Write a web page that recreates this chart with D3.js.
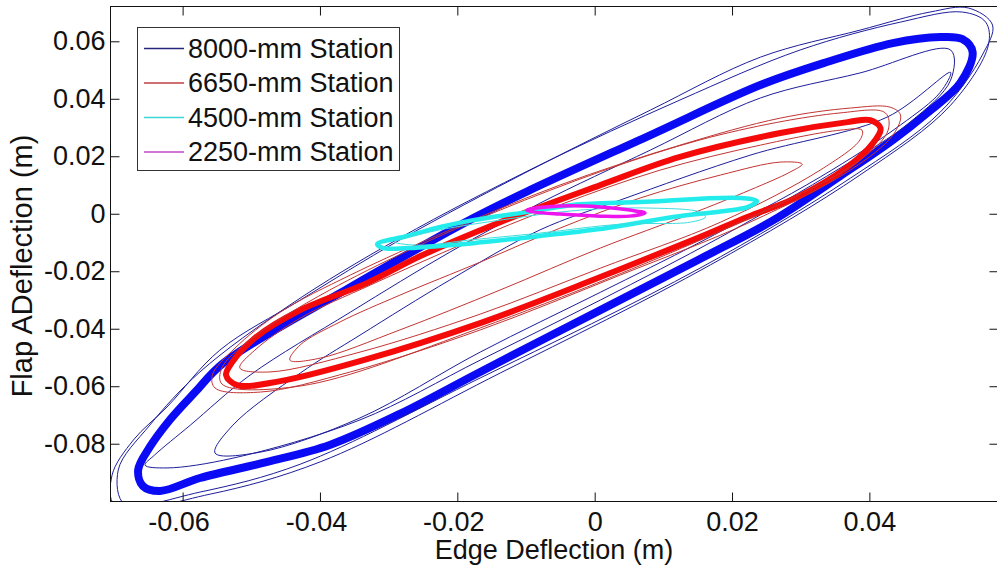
<!DOCTYPE html>
<html>
<head>
<meta charset="utf-8">
<script src="https://cdn.jsdelivr.net/npm/d3@7"></script>
<style>
  html, body { margin: 0; padding: 0; background: #fff; }
  svg { display: block; font-family: "Liberation Sans", Arial, Helvetica, sans-serif; }
</style>
</head>
<body>
<svg id="chart" width="997" height="565"></svg>
<script>
// ---- labels, ticks and limits ----
const stationLabels = ["8000-mm Station", "6650-mm Station", "4500-mm Station", "2250-mm Station"];
const xTicks = [-0.06, -0.04, -0.02, 0, 0.02, 0.04];
const yTicks = [-0.08, -0.06, -0.04, -0.02, 0, 0.02, 0.04, 0.06];
const xLimits = [-0.0705, 0.0588];
const yLimits = [-0.1001, 0.0721];
const xTitle = "Edge Deflection (m)";
const yTitle = "Flap ADeflection (m)";

// ---- orbits: [edge, flap] deflection in metres, each array is one closed cycle ----
// 8000-mm station: the settled (dense) cycle, then stray cycles
const st8000Dense = [
  [-0.0632,-0.0966],[-0.0574,-0.0921],[-0.0476,-0.0865],[-0.0385,-0.0806],[-0.0283,-0.0698],
  [-0.0166,-0.0552],[0.0009,-0.0337],[0.0154,-0.0159],[0.0261,-0.0024],[0.0358,0.0129],
  [0.0435,0.0255],[0.0485,0.0349],[0.0533,0.0453],[0.0551,0.0561],[0.0536,0.0606],
  [0.0504,0.0613],[0.0435,0.0592],[0.0339,0.0526],[0.0242,0.0446],[0.0082,0.0272],
  [-0.0093,0.0081],[-0.0176,-0.0017],[-0.0355,-0.0257],[-0.0540,-0.0521],[-0.0581,-0.0622],
  [-0.0618,-0.0719],[-0.0647,-0.0813],[-0.0664,-0.0893],[-0.0657,-0.0949]
];
const st8000OuterA = [
  [-0.0698,-0.1015],[-0.0574,-0.0970],[-0.0428,-0.0873],[-0.0166,-0.0573],[0.0154,-0.0191],
  [0.0373,0.0122],[0.0504,0.0352],[0.0565,0.0550],[0.0580,0.0655],[0.0545,0.0714],
  [0.0489,0.0700],[0.0387,0.0637],[0.0242,0.0543],[0.0082,0.0359],[-0.0093,0.0150],
  [-0.0283,-0.0093],[-0.0428,-0.0302],[-0.0545,-0.0476],[-0.0622,-0.0674],[-0.0671,-0.0789],
  [-0.0702,-0.0911]
];
const st8000OuterB = [
  [-0.0683,-0.1015],[-0.0559,-0.0977],[-0.0399,-0.0865],[-0.0137,-0.0556],[0.0169,-0.0180],
  [0.0387,0.0133],[0.0519,0.0376],[0.0574,0.0585],[0.0570,0.0665],[0.0536,0.0700],
  [0.0446,0.0665],[0.0300,0.0568],[0.0125,0.0394],[-0.0079,0.0168],[-0.0283,-0.0086],
  [-0.0443,-0.0319],[-0.0574,-0.0552],[-0.0647,-0.0737],[-0.0693,-0.0893]
];
const st8000Inner = [
  [-0.0552,-0.0834],[-0.0526,-0.0737],[-0.0428,-0.0556],[-0.0341,-0.0424],[-0.0210,-0.0232],
  [-0.0079,-0.0058],[0.0038,0.0046],[0.0227,0.0202],[0.0427,0.0335],[0.0519,0.0490],
  [0.0504,0.0421],[0.0446,0.0307],[0.0329,0.0126],[0.0154,-0.0101],[0.0009,-0.0275],
  [-0.0166,-0.0483],[-0.0341,-0.0712],[-0.0486,-0.0831]
];
const st8000Hug = [
  [-0.0654,-0.0876],[-0.0622,-0.0886],[-0.0526,-0.0852],[-0.0341,-0.0719],[-0.0166,-0.0511],
  [0.0009,-0.0302],[0.0184,-0.0083],[0.0358,0.0157],[0.0460,0.0317],[0.0519,0.0463],
  [0.0519,0.0568],[0.0387,0.0488],[0.0242,0.0401],[0.0082,0.0220],[-0.0079,0.0035],
  [-0.0210,-0.0135],[-0.0355,-0.0344],[-0.0501,-0.0563],[-0.0588,-0.0737],[-0.0640,-0.0841]
];

// 6650-mm station
const st6650Dense = [
  [-0.0520,-0.0598],[-0.0457,-0.0584],[-0.0336,-0.0511],[-0.0166,-0.0382],[0.0009,-0.0222],
  [0.0154,-0.0083],[0.0223,-0.0013],[0.0296,0.0056],[0.0369,0.0161],[0.0406,0.0244],
  [0.0417,0.0296],[0.0402,0.0324],[0.0369,0.0317],[0.0271,0.0279],[0.0125,0.0196],
  [0.0009,0.0098],[-0.0137,-0.0031],[-0.0253,-0.0149],[-0.0331,-0.0243],[-0.0428,-0.0337],
  [-0.0494,-0.0434],[-0.0527,-0.0518],[-0.0536,-0.0563]
];
const st6650OuterA = [
  [-0.0552,-0.0608],[-0.0486,-0.0622],[-0.0355,-0.0552],[-0.0166,-0.0406],[0.0038,-0.0215],
  [0.0227,-0.0031],[0.0373,0.0150],[0.0435,0.0272],[0.0446,0.0342],[0.0431,0.0369],
  [0.0373,0.0366],[0.0271,0.0331],[0.0125,0.0237],[-0.0050,0.0098],[-0.0210,-0.0058],
  [-0.0355,-0.0215],[-0.0457,-0.0344],[-0.0523,-0.0469],[-0.0556,-0.0563]
];
const st6650OuterB = [
  [-0.0542,-0.0594],[-0.0428,-0.0601],[-0.0166,-0.0399],[0.0213,-0.0031],[0.0387,0.0185],
  [0.0428,0.0289],[0.0424,0.0349],[0.0358,0.0349],[0.0154,0.0255],[-0.0137,0.0011],
  [-0.0385,-0.0267],[-0.0501,-0.0441],[-0.0542,-0.0538]
];
const st6650Inner = [
  [-0.0443,-0.0511],[-0.0428,-0.0458],[-0.0370,-0.0378],[-0.0283,-0.0285],[-0.0166,-0.0170],
  [-0.0050,-0.0052],[0.0067,0.0053],[0.0184,0.0133],[0.0271,0.0178],[0.0303,0.0171],
  [0.0285,0.0143],[0.0227,0.0081],[0.0140,-0.0003],[0.0009,-0.0121],[-0.0137,-0.0267],
  [-0.0283,-0.0406],[-0.0399,-0.0504]
];
const st6650Hug = [
  [-0.0516,-0.0538],[-0.0472,-0.0552],[-0.0341,-0.0483],[-0.0166,-0.0351],[0.0009,-0.0191],
  [0.0184,-0.0031],[0.0329,0.0150],[0.0387,0.0255],[0.0390,0.0289],[0.0358,0.0289],
  [0.0242,0.0237],[0.0096,0.0150],[-0.0050,0.0029],[-0.0195,-0.0111],[-0.0326,-0.0250],
  [-0.0428,-0.0365],[-0.0494,-0.0476]
];

// 4500-mm station
const st4500Dense = [
  [-0.0316,-0.0107],[-0.0272,-0.0079],[-0.0224,-0.0048],[-0.0176,-0.0024],[-0.0098,0.0004],
  [-0.0031,0.0029],[0.0067,0.0039],[0.0213,0.0053],[0.0237,0.0042],[0.0224,0.0022],
  [0.0202,0.0011],[0.0115,-0.0013],[0.0019,-0.0051],[-0.0079,-0.0079],[-0.0176,-0.0104],
  [-0.0272,-0.0121],[-0.0307,-0.0121]
];
const st4500Inner = [
  [-0.0290,-0.0100],[-0.0239,-0.0065],[-0.0137,-0.0024],[-0.0020,0.0011],[0.0082,0.0018],
  [0.0154,0.0004],[0.0162,-0.0013],[0.0140,-0.0031],[0.0038,-0.0038],[-0.0079,-0.0069],
  [-0.0181,-0.0093],[-0.0253,-0.0111]
];

// 2250-mm station
const st2250Dense = [
  [-0.0098,0.0011],[-0.0050,0.0025],[0.0009,0.0022],[0.0052,0.0011],[0.0074,0.0001],
  [0.0052,-0.0010],[0.0009,-0.0010],[-0.0050,-0.0003],[-0.0086,0.0004]
];

// one entry per station: dense cycle first, then the stray cycles
const stationOrbits = [
  [st8000Dense, st8000OuterA, st8000OuterB, st8000Inner, st8000Hug],
  [st6650Dense, st6650OuterA, st6650OuterB, st6650Inner, st6650Hug],
  [st4500Dense, st4500Inner],
  [st2250Dense]
];

// ---- drawing ----
const plot = { left: 110, top: 6, right: 998, bottom: 501 };

const denseColor = ["#0a0af5", "#f50a0a", "#22ecec", "#ee14ee"];
const strayColor = ["#1e1e9c", "#c23434", "#3cdede", "#c63cc6"];
const legendColor = ["#26267e", "#c24040", "#3ad8d8", "#c448c4"];
const denseWidth = [8, 6, 4.5, 3.5];
const fontSize = 27;

const svg = d3.select("#chart");

const x = d3.scaleLinear().domain(xLimits).range([plot.left, plot.right]);
const y = d3.scaleLinear().domain(yLimits).range([plot.bottom, plot.top]);

svg.append("defs").append("clipPath").attr("id", "plotClip")
  .append("rect")
  .attr("x", plot.left).attr("y", plot.top)
  .attr("width", plot.right - plot.left).attr("height", plot.bottom - plot.top);

const orbitLine = d3.line()
  .x(d => x(d[0]))
  .y(d => y(d[1]))
  .curve(d3.curveCatmullRomClosed.alpha(0.5));

const dataLayer = svg.append("g").attr("clip-path", "url(#plotClip)");

stationOrbits.forEach((orbits, s) => {
  const g = dataLayer.append("g").attr("class", "station-" + s);
  orbits.forEach((pts, k) => {
    const dense = k === 0;
    g.append("path")
      .attr("d", orbitLine(pts))
      .attr("fill", "none")
      .attr("stroke", dense ? denseColor[s] : strayColor[s])
      .attr("stroke-width", dense ? denseWidth[s] : 1)
      .attr("stroke-linejoin", "round");
  });
});

// frame
svg.append("rect")
  .attr("x", plot.left + 0.5).attr("y", plot.top + 0.5)
  .attr("width", plot.right - plot.left).attr("height", plot.bottom - plot.top)
  .attr("fill", "none").attr("stroke", "#111").attr("stroke-width", 1);

const fmt = d => (d === 0 ? "0" : d.toFixed(2));
const tickLen = 9;

function styleAxis(g) {
  g.select(".domain").remove();
  g.selectAll(".tick line").attr("stroke", "#111");
  g.selectAll(".tick text")
    .attr("fill", "#111")
    .attr("font-size", fontSize)
    .attr("font-family", '"Liberation Sans", Arial, sans-serif');
}

const xAxisG = svg.append("g")
  .attr("transform", `translate(0.5,${plot.bottom + 0.5})`)
  .call(d3.axisBottom(x).tickValues(xTicks).tickFormat(fmt).tickSize(-tickLen).tickPadding(10))
  .call(styleAxis);
xAxisG.selectAll(".tick text").attr("dx", d => (d < 0 ? -4 : 0));

svg.append("g")
  .attr("transform", `translate(0.5,${plot.top + 0.5})`)
  .call(d3.axisTop(x).tickValues(xTicks).tickFormat("").tickSize(-tickLen))
  .call(styleAxis);

svg.append("g")
  .attr("transform", `translate(${plot.left + 0.5},0.5)`)
  .call(d3.axisLeft(y).tickValues(yTicks).tickFormat(fmt).tickSize(-tickLen).tickPadding(5))
  .call(styleAxis);

svg.append("g")
  .attr("transform", `translate(${plot.right + 0.5},0.5)`)
  .call(d3.axisRight(y).tickValues(yTicks).tickFormat("").tickSize(-tickLen))
  .call(styleAxis);

// axis titles
svg.append("text")
  .attr("x", (plot.left + plot.right) / 2)
  .attr("y", 559)
  .attr("text-anchor", "middle")
  .attr("font-size", fontSize)
  .attr("fill", "#111")
  .text(xTitle);

svg.append("text")
  .attr("transform", "translate(32,266) rotate(-90)")
  .attr("text-anchor", "middle")
  .attr("font-size", 29)
  .attr("fill", "#111")
  .text(yTitle);

// legend
const legend = svg.append("g");
legend.append("rect")
  .attr("x", 137.5).attr("y", 27.5)
  .attr("width", 262).attr("height", 143)
  .attr("fill", "#fff").attr("stroke", "#333").attr("stroke-width", 1);

stationLabels.forEach((label, i) => {
  const cy = 48.5 + i * 34.5;
  legend.append("line")
    .attr("x1", 144).attr("x2", 184)
    .attr("y1", cy).attr("y2", cy)
    .attr("stroke", legendColor[i]).attr("stroke-width", 1.4);
  legend.append("text")
    .attr("x", 188).attr("y", cy)
    .attr("dy", "0.35em")
    .attr("font-size", fontSize)
    .attr("fill", "#111")
    .text(label);
});
</script>
</body>
</html>
